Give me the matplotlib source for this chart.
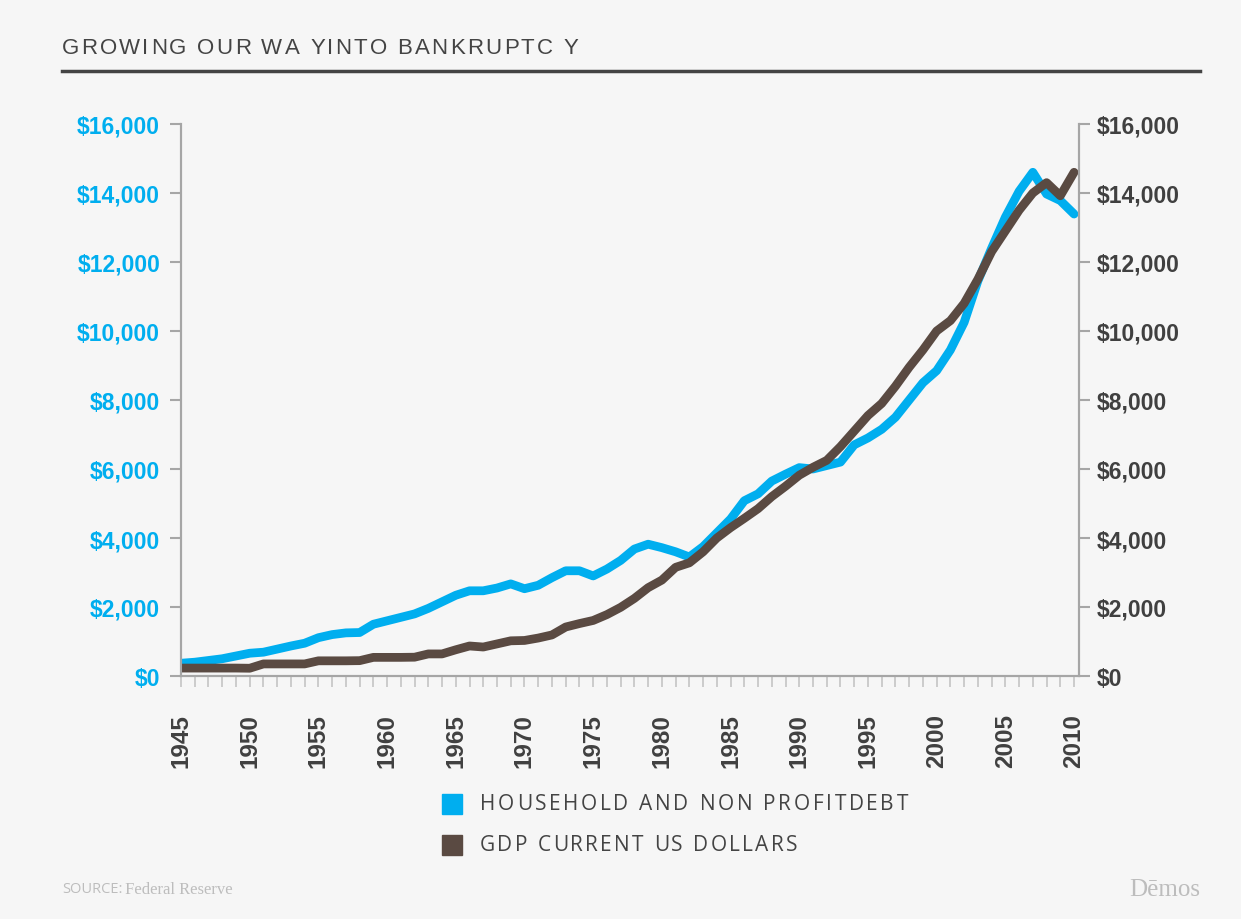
import matplotlib.pyplot as plt
from matplotlib.font_manager import FontProperties
from matplotlib.ticker import FuncFormatter, MultipleLocator

# Data (billions of dollars)
years = list(range(1945, 2011))
household_debt = [
    370, 400, 450, 500, 580, 660, 690, 780, 870, 950,
    1110, 1200, 1250, 1260, 1500, 1600, 1700, 1800, 1960, 2150,
    2340, 2470, 2470, 2550, 2670, 2530, 2630, 2850, 3050, 3050,
    2900, 3100, 3350, 3680, 3820, 3720, 3600, 3450, 3750, 4150,
    4550, 5080, 5280, 5650, 5850, 6040, 6000, 6100, 6200, 6700,
    6900, 7150, 7500, 8000, 8500, 8850, 9450, 10250, 11450, 12400,
    13300, 14050, 14600, 13970, 13780, 13390,
]
gdp = [
    230, 230, 230, 230, 230, 225, 350, 350, 350, 350,
    440, 440, 440, 445, 540, 540, 540, 545, 640, 640,
    760, 870, 840, 930, 1020, 1030, 1100, 1190, 1420, 1520,
    1610, 1780, 1990, 2250, 2560, 2780, 3150, 3280, 3600, 4000,
    4300, 4570, 4850, 5200, 5500, 5820, 6050, 6250, 6650, 7100,
    7550, 7900, 8400, 8950, 9450, 10000, 10300, 10800, 11500, 12300,
    12900, 13500, 14000, 14300, 13920, 14600,
]
year_ticks = list(range(1945, 2011, 5))
title = "GROWING OUR WA YINTO BANKRUPTC Y"
legend_labels = ["HOUSEHOLD AND NON PROFITDEBT", "GDP CURRENT US DOLLARS"]

BLUE = "#00aeef"
BROWN = "#5a4a42"
DARK = "#404040"
SPINE = "#a6a6a6"
BG = "#f6f6f6"

W, H = 1241, 920
fig = plt.figure(figsize=(W / 100, H / 100), dpi=100, facecolor=BG)
renderer = fig.canvas.get_renderer()


def px(x, y):
    return x / W, 1 - y / H


def tracked_text(x0, x1, y, s, fp, color):
    # spread characters so the text runs from x0 to x1 (pixels)
    widths = []
    for ch in s:
        if ch == " ":
            widths.append(fp.get_size_in_points() * 100 / 72 * 0.28)
        else:
            w, h, d = renderer.get_text_width_height_descent(ch, fp, ismath=False)
            widths.append(w)
    gap = (x1 - x0 - sum(widths)) / (len(s) - 1)
    cx = x0
    for ch, w in zip(s, widths):
        if ch != " ":
            fig.text(*px(cx, y), ch, fontproperties=fp, color=color,
                     ha="left", va="center")
        cx += w + gap


# Axes
ax = fig.add_axes([181 / W, 1 - 677 / H, (1079 - 181) / W, (677 - 125) / H])
ax.set_facecolor(BG)
ax2 = ax.twinx()

ax.plot(years, household_debt, color=BLUE, lw=6.3,
        solid_capstyle="round", solid_joinstyle="round")
ax2.plot(years, gdp, color=BROWN, lw=6.3,
         solid_capstyle="round", solid_joinstyle="round")

for a in (ax, ax2):
    a.set_xlim(1945, 2010.36)
    a.set_ylim(0, 16000)
    a.yaxis.set_major_locator(MultipleLocator(2000))
    a.yaxis.set_major_formatter(FuncFormatter(lambda v, p: "${:,.0f}".format(v)))
    a.spines["top"].set_visible(False)
    for s in ("left", "right", "bottom"):
        a.spines[s].set_color(SPINE)
        a.spines[s].set_linewidth(1.5)

ytick_fp = FontProperties(family="Liberation Sans", weight="bold", size=16.5)
xtick_fp = FontProperties(family="Liberation Sans", weight="bold", size=17.5)

ax.tick_params(axis="y", colors=SPINE, length=8, width=1.5, pad=7, labelcolor=BLUE)
ax2.tick_params(axis="y", colors=SPINE, length=8, width=1.5, pad=5, labelcolor=DARK)
for lab in ax.get_yticklabels() + ax2.get_yticklabels():
    lab.set_fontproperties(ytick_fp)

ax.set_xticks(year_ticks)
ax.set_xticklabels([str(y) for y in year_ticks], rotation=90)
ax.xaxis.set_minor_locator(MultipleLocator(1))
ax.tick_params(axis="x", which="both", colors="#c4c4c4", length=8, width=1.2,
               pad=19, labelcolor=DARK)
for lab in ax.get_xticklabels():
    lab.set_fontproperties(xtick_fp)
    lab.set_va("top")
ax2.tick_params(axis="x", which="both", length=0)

# Title and rule
title_fp = FontProperties(family="Liberation Sans", size=16)
tracked_text(62, 578, 48, title, title_fp, "#444444")
fig.add_artist(plt.Line2D([62 / W, 1200 / W], [1 - 72 / H, 1 - 72 / H],
                          color="#444444", lw=2.5))

# Legend
leg_fp = FontProperties(family="Open Sans", size=15)
for i, (lab, col) in enumerate(zip(legend_labels, [BLUE, BROWN])):
    yc = 805 + i * 41
    fig.add_artist(plt.Rectangle(px(442, yc + 10), 20 / W, 20 / H,
                                 color=col, transform=fig.transFigure))
    x_end = 908 if i == 0 else 797
    tracked_text(480, x_end, yc, lab, leg_fp, "#444444")

# Footer
fig.text(*px(62, 890), "SOURCE:", family="Open Sans", size=10.5,
         color="#bdbdbd", va="center", ha="left")
fig.text(*px(121, 890), " Federal Reserve", family="Liberation Serif", size=12,
         color="#bdbdbd", va="center", ha="left")
fig.text(*px(1200, 890), "D\u0113mos", family="Liberation Serif", size=18,
         color="#bdbdbd", va="center", ha="right")

fig.savefig("out.png", dpi=100, facecolor=BG)
